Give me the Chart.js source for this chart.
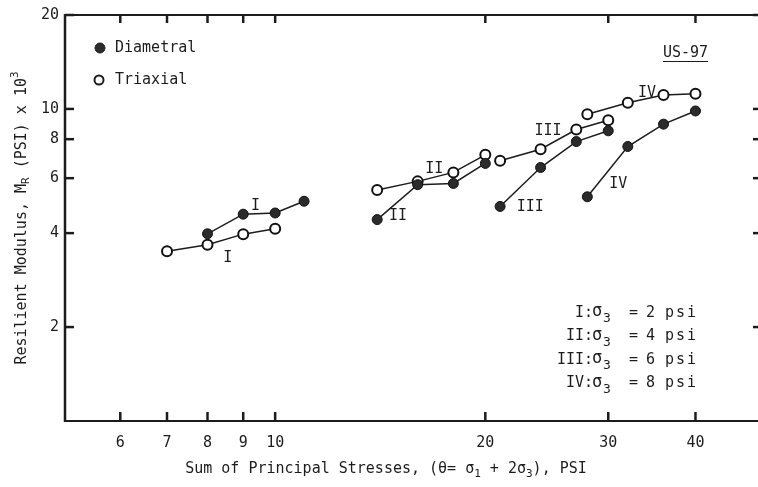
<!DOCTYPE html>
<html>
<head>
<meta charset="utf-8">
<script src="https://cdn.jsdelivr.net/npm/chart.js@4.4.1/dist/chart.umd.min.js"></script>
<style>
  html, body { margin: 0; padding: 0; background: #fff; }
  #wrap { width: 758px; height: 487px; }
</style>
</head>
<body>
<div id="wrap"><canvas id="chart"></canvas></div>
<script>
// confining pressure groups
const groups = ['I', 'II', 'III', 'IV'];
const confining = [2, 4, 6, 8];
const seriesNames = ['Diametral', 'Triaxial'];

// sum of principal stresses (psi) and modulus (x 10^3 psi), one row per group
const diametralX = [[8, 9, 10, 11], [14, 16, 18, 20], [21, 24, 27, 30], [28, 32, 36, 40]];
const diametralY = [[3.98, 4.60, 4.64, 5.06], [4.42, 5.72, 5.77, 6.69], [4.87, 6.49, 7.86, 8.51], [5.23, 7.58, 8.94, 9.85]];
const triaxialX = [[7, 8, 9, 10], [14, 16, 18, 20], [21, 24, 27, 30], [28, 32, 36, 40]];
const triaxialY = [[3.50, 3.67, 3.97, 4.13], [5.50, 5.86, 6.26, 7.13], [6.82, 7.43, 8.59, 9.20], [9.62, 10.47, 11.08, 11.19]];

const xTicks = [6, 7, 8, 9, 10, 20, 30, 40];
const yTicks = [2, 4, 6, 8, 10, 20];

// where the roman numerals sit next to the curves (data units)
const tagText = ['I', 'I', 'II', 'II', 'III', 'III', 'IV', 'IV'];
const tagX = [9.37, 8.55, 16.9, 15.0, 24.6, 23.2, 34.1, 31.0];
const tagY = [4.90, 3.32, 6.42, 4.55, 8.51, 4.86, 11.28, 5.75];

const ink = '#1c1c1c';
const mono = '"DejaVu Sans Mono", monospace';

Chart.defaults.font.family = mono;
Chart.defaults.font.size = 15;
Chart.defaults.color = ink;

function pts(xs, ys) {
  return xs.map((x, i) => ({ x: x, y: ys[i] }));
}

var datasets = [];
groups.forEach((g, i) => {
  datasets.push({
    label: seriesNames[0] + ' ' + g,
    data: pts(diametralX[i], diametralY[i]),
    borderColor: ink, borderWidth: 1.5,
    pointRadius: 5, pointBorderWidth: 1,
    pointBackgroundColor: '#2b2b2b', pointBorderColor: '#111'
  });
  datasets.push({
    label: seriesNames[1] + ' ' + g,
    data: pts(triaxialX[i], triaxialY[i]),
    borderColor: ink, borderWidth: 1.5,
    pointRadius: 5, pointBorderWidth: 2,
    pointBackgroundColor: '#fff', pointBorderColor: '#111'
  });
});

function seg(ctx, x1, y1, x2, y2) {
  ctx.beginPath(); ctx.moveTo(x1, y1); ctx.lineTo(x2, y2); ctx.stroke();
}

// draws pieces of text in a row, some lowered (sub) or raised (sup)
function richText(ctx, parts, x, y, align) {
  var widths = parts.map(p => {
    ctx.font = (p.s ? 11 : 15) + 'px ' + mono;
    return ctx.measureText(p.t).width;
  });
  var total = widths.reduce((a, b) => a + b, 0);
  var cx = align === 'center' ? x - total / 2 : x;
  ctx.textAlign = 'left';
  ctx.textBaseline = 'middle';
  parts.forEach((p, i) => {
    ctx.font = (p.s ? 11 : 15) + 'px ' + mono;
    ctx.fillText(p.t, cx, y + (p.s || 0));
    cx += widths[i];
  });
}

const decor = {
  id: 'decor',
  afterDraw(chart) {
    const ctx = chart.ctx, a = chart.chartArea;
    const xs = chart.scales.x, ys = chart.scales.y;
    ctx.save();
    ctx.strokeStyle = ink;
    ctx.fillStyle = ink;

    // frame
    ctx.lineWidth = 2.5;
    seg(ctx, a.left, a.top - 1, a.left, a.bottom + 1);
    ctx.lineWidth = 2;
    seg(ctx, a.left, a.bottom, a.right + 2, a.bottom);
    seg(ctx, a.left, a.top, a.right + 2, a.top);

    // inward ticks
    ctx.lineWidth = 2.5;
    xTicks.forEach(v => {
      var px = xs.getPixelForValue(v);
      seg(ctx, px, a.bottom, px, a.bottom - 9);
      seg(ctx, px, a.top, px, a.top + 8);
    });
    yTicks.forEach(v => {
      var py = ys.getPixelForValue(v);
      seg(ctx, a.left, py, a.left + 9, py);
      seg(ctx, a.right + 2, py, a.right - 4, py);
    });

    // legend
    ctx.font = '15px ' + mono;
    ctx.textBaseline = 'middle';
    ctx.textAlign = 'left';
    ctx.lineWidth = 1;
    ctx.fillStyle = '#2b2b2b';
    ctx.beginPath(); ctx.arc(100, 48, 5, 0, Math.PI * 2); ctx.fill(); ctx.stroke();
    ctx.lineWidth = 2;
    ctx.fillStyle = '#fff';
    ctx.beginPath(); ctx.arc(99, 80, 4.5, 0, Math.PI * 2); ctx.fill(); ctx.stroke();
    ctx.fillStyle = ink;
    ctx.fillText(seriesNames[0], 115, 48);
    ctx.fillText(seriesNames[1], 115, 80);

    // site tag
    ctx.fillText('US-97', 663, 53);
    ctx.lineWidth = 1.2;
    seg(ctx, 663, 61.5, 708, 61.5);

    // curve numerals
    ctx.textAlign = 'center';
    tagText.forEach((t, i) => {
      ctx.fillText(t, xs.getPixelForValue(tagX[i]), ys.getPixelForValue(tagY[i]));
    });

    // confining pressure key
    groups.forEach((g, i) => {
      var y = 313 + i * 23.5;
      ctx.font = '15px ' + mono;
      ctx.textAlign = 'right';
      ctx.fillText(g + ':', 593, y);
      ctx.textAlign = 'left';
      ctx.font = '17px ' + mono;
      ctx.fillText('σ', 592, y - 1);
      ctx.font = '13px ' + mono;
      ctx.fillText('3', 603, y + 6);
      ctx.font = '15px ' + mono;
      ctx.fillText('=', 629, y);
      ctx.fillText(String(confining[i]), 646, y);
      ctx.letterSpacing = '2px';
      ctx.fillText('psi', 665, y);
      ctx.letterSpacing = '0px';
    });

    // axis titles
    richText(ctx, [
      { t: 'Sum of Principal Stresses, (θ= ' }, { t: 'σ' }, { t: '1', s: 5 },
      { t: ' + 2' }, { t: 'σ' }, { t: '3', s: 5 }, { t: '), PSI' }
    ], 386, 469, 'center');

    ctx.translate(22, (a.top + a.bottom) / 2);
    ctx.rotate(-Math.PI / 2);
    richText(ctx, [
      { t: 'Resilient Modulus, M' }, { t: 'R', s: 4 },
      { t: ' (PSI) x 10' }, { t: '3', s: -7 }
    ], 0, 0, 'center');

    ctx.restore();
  }
};

new Chart(document.getElementById('chart'), {
  type: 'line',
  data: { datasets: datasets },
  options: {
    responsive: true,
    maintainAspectRatio: false,
    animation: false,
    layout: { autoPadding: false, padding: { top: 15, right: 1, left: 0, bottom: 0 } },
    plugins: { legend: { display: false }, tooltip: { enabled: false } },
    scales: {
      x: {
        type: 'logarithmic',
        min: 5, max: 49,
        afterBuildTicks: s => { s.ticks = xTicks.map(v => ({ value: v })); },
        afterFit: s => { s.height = 66; },
        grid: { display: false, drawTicks: false },
        border: { display: false },
        ticks: { autoSkip: false, maxRotation: 0, padding: 13, callback: v => String(v) }
      },
      y: {
        type: 'logarithmic',
        min: 1, max: 20,
        afterBuildTicks: s => { s.ticks = yTicks.map(v => ({ value: v })); },
        afterFit: s => { s.width = 65; },
        grid: { display: false, drawTicks: false },
        border: { display: false },
        ticks: { autoSkip: false, padding: 6, callback: v => String(v) }
      }
    }
  },
  plugins: [decor]
});
</script>
</body>
</html>
